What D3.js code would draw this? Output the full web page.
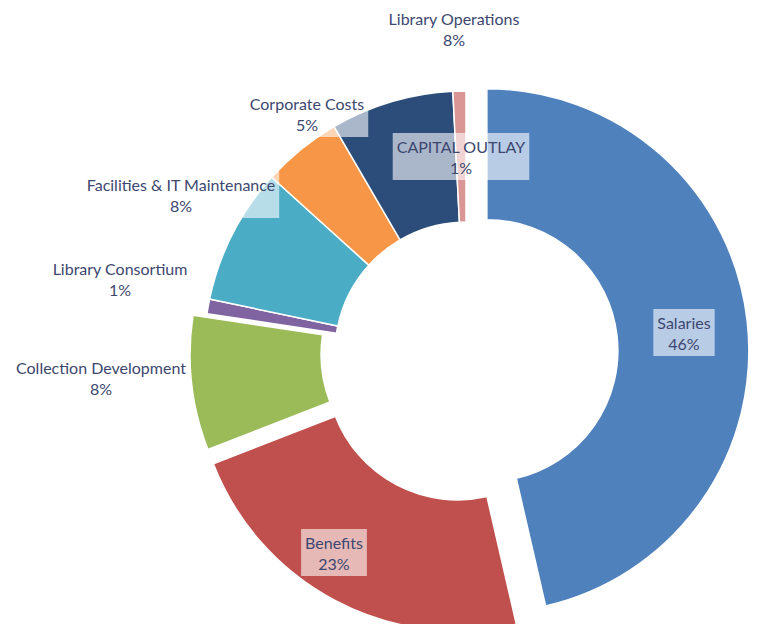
<!DOCTYPE html>
<html>
<head>
<meta charset="utf-8">
<script src="https://cdn.jsdelivr.net/npm/d3@7"></script>
<style>
  html, body { margin: 0; padding: 0; background: #ffffff; }
  svg { display: block; }
  text { font-family: Lato, "Open Sans", sans-serif; }
</style>
</head>
<body>
<svg id="chart" width="757" height="624"></svg>
<script>
// Budget categories, in clockwise order from 12 o'clock
const categories = [
  "Salaries",
  "Benefits",
  "Collection Development",
  "Library Consortium",
  "Facilities & IT Maintenance",
  "Corporate Costs",
  "Library Operations",
  "CAPITAL OUTLAY"
];
// Share of the total budget, percent
const shares = [46.4, 22.7, 8.3, 0.9, 8.4, 4.9, 7.6, 0.8];
const colors = ["#4f81bd", "#c0504d", "#9bbb59", "#8064a2", "#4bacc6", "#f79646", "#2c4d7a", "#d99694"];

// Layout: how far each slice is pulled out, and where its label sits (centre of first line)
const explode = {"Salaries": 21, "Benefits": 18, "Collection Development": 14};
const labelAt = {
  "Salaries": [684, 322],
  "Benefits": [334, 542],
  "Collection Development": [101, 367],
  "Library Consortium": [120, 268],
  "Facilities & IT Maintenance": [181, 184],
  "Corporate Costs": [307, 103],
  "Library Operations": [454, 18],
  "CAPITAL OUTLAY": [461, 146]
};

const cx = 466, cy = 353, outerR = 262, innerR = 131;
const lineGap = 21;

const data = categories.map((c, i) => ({name: c, value: shares[i], color: colors[i]}));

const svg = d3.select("#chart");
const g = svg.append("g").attr("transform", `translate(${cx},${cy})`);

const pie = d3.pie().sort(null).value(d => d.value).startAngle(0).endAngle(2 * Math.PI);
const arc = d3.arc().innerRadius(innerR).outerRadius(outerR);
const arcs = pie(data);

g.selectAll("path.slice")
  .data(arcs)
  .join("path")
  .attr("class", "slice")
  .attr("transform", d => {
    const off = explode[d.data.name] || 0;
    const mid = (d.startAngle + d.endAngle) / 2;
    return `translate(${off * Math.sin(mid)},${-off * Math.cos(mid)})`;
  })
  .attr("d", arc)
  .attr("fill", d => d.data.color)
  .attr("stroke", "#ffffff")
  .attr("stroke-width", 1.5);

// Data labels: name and rounded percent, on a translucent white box
const labels = svg.append("g");
const fontSize = 16;

arcs.forEach(d => {
  const [lx, ly] = labelAt[d.data.name];
  const grp = labels.append("g");
  const box = grp.append("rect")
    .attr("fill", "#ffffff")
    .attr("fill-opacity", 0.6);
  const t1 = grp.append("text")
    .attr("x", lx).attr("y", ly)
    .attr("text-anchor", "middle")
    .attr("dominant-baseline", "central")
    .attr("font-size", fontSize)
    .attr("fill", "#3d4770")
    .text(d.data.name);
  const t2 = grp.append("text")
    .attr("x", lx).attr("y", ly + lineGap)
    .attr("text-anchor", "middle")
    .attr("dominant-baseline", "central")
    .attr("font-size", fontSize)
    .attr("fill", "#3d4770")
    .text(Math.round(d.data.value) + "%");
  const w = Math.max(t1.node().getComputedTextLength(), t2.node().getComputedTextLength());
  box.attr("x", lx - w / 2 - 4)
    .attr("y", ly - 13)
    .attr("width", w + 8)
    .attr("height", lineGap + 26);
});
</script>
</body>
</html>
